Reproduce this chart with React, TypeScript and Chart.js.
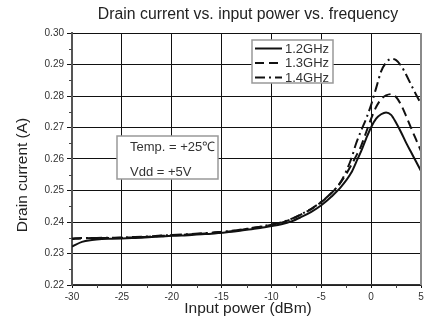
import React, { useEffect, useRef } from "react";
import { Chart, registerables } from "chart.js";
Chart.register(...registerables);

const inputPower = [-30, -29, -28, -27, -26, -25, -24, -23, -22, -21, -20, -19, -18, -17, -16, -15, -14, -13, -12, -11, -10, -9, -8, -7, -6, -5, -4, -3, -2, -1.5, -1, -0.5, 0, 0.5, 1, 1.5, 2, 2.5, 3, 3.5, 4, 4.5, 5];

const current12 = [0.2322, 0.2337, 0.2343, 0.2346, 0.2347, 0.2348, 0.2349, 0.235, 0.2352, 0.2354, 0.2356, 0.2357, 0.2359, 0.2361, 0.2363, 0.2366, 0.2369, 0.2373, 0.2377, 0.2382, 0.2387, 0.2393, 0.2402, 0.2416, 0.2432, 0.2453, 0.248, 0.2512, 0.2556, 0.259, 0.2625, 0.2665, 0.2701, 0.2728, 0.2742, 0.2748, 0.274, 0.2715, 0.2685, 0.2652, 0.2622, 0.2592, 0.2562];

const current13 = [0.2346, 0.2348, 0.2349, 0.2349, 0.2349, 0.235, 0.2351, 0.2352, 0.2354, 0.2356, 0.2358, 0.2359, 0.2361, 0.2363, 0.2365, 0.2368, 0.2371, 0.2375, 0.238, 0.2385, 0.2391, 0.2398, 0.2409, 0.2424, 0.2441, 0.2463, 0.2491, 0.2528, 0.258, 0.261, 0.2642, 0.2685, 0.2728, 0.2765, 0.279, 0.2802, 0.2806, 0.2797, 0.2772, 0.2737, 0.2699, 0.2662, 0.2625];

const current14 = [0.2348, 0.2349, 0.2349, 0.235, 0.235, 0.2351, 0.2352, 0.2353, 0.2355, 0.2357, 0.2359, 0.236, 0.2362, 0.2364, 0.2366, 0.2369, 0.2372, 0.2376, 0.2381, 0.2386, 0.2392, 0.2399, 0.241, 0.2425, 0.2442, 0.2464, 0.2492, 0.253, 0.26, 0.265, 0.269, 0.2728, 0.2772, 0.2825, 0.2878, 0.2906, 0.2918, 0.2914, 0.2896, 0.2868, 0.2836, 0.2805, 0.2775];

const seriesLabels = ["1.2GHz", "1.3GHz", "1.4GHz"];
const seriesDashes: number[][] = [[], [9, 5], [10, 4, 2, 4]];
const chartTitle = "Drain current vs. input power vs. frequency";
const xTitle = "Input power (dBm)";
const yTitle = "Drain current (A)";
const noteLines = ["Temp. = +25\u2103", "Vdd = +5V"];

const FONT = "'Liberation Sans', Arial, sans-serif";

const overlay = {
  id: "overlay",
  afterDatasetsDraw(chart: any) {
    const ctx = chart.ctx;
    const { left, right, top, bottom } = chart.chartArea;
    const xs = chart.scales.x;
    const ys = chart.scales.y;
    ctx.save();
    // right border
    ctx.strokeStyle = "#8a8a8a";
    ctx.lineWidth = 2;
    ctx.beginPath();
    ctx.moveTo(right, top);
    ctx.lineTo(right, bottom);
    ctx.stroke();
    // minor ticks
    ctx.strokeStyle = "#444";
    ctx.lineWidth = 1;
    for (let v = -27.5; v < 5; v += 5) {
      const px = Math.round(xs.getPixelForValue(v)) + 0.5;
      ctx.beginPath();
      ctx.moveTo(px, bottom);
      ctx.lineTo(px, bottom + 3);
      ctx.stroke();
    }
    for (let v = 0.225; v < 0.3; v += 0.01) {
      const py = Math.round(ys.getPixelForValue(v)) + 0.5;
      ctx.beginPath();
      ctx.moveTo(left - 3, py);
      ctx.lineTo(left, py);
      ctx.stroke();
    }
    // legend box
    ctx.fillStyle = "#fff";
    ctx.fillRect(252, 40, 81, 43);
    ctx.strokeStyle = "#999";
    ctx.lineWidth = 1.5;
    ctx.strokeRect(252, 40, 81, 43);
    const rows = [48.5, 63, 77.5];
    ctx.font = `13px ${FONT}`;
    ctx.textBaseline = "middle";
    ctx.textAlign = "left";
    rows.forEach((ry, i) => {
      ctx.strokeStyle = "#111";
      ctx.lineWidth = 2;
      ctx.setLineDash(seriesDashes[i]);
      ctx.beginPath();
      ctx.moveTo(255, ry);
      ctx.lineTo(282, ry);
      ctx.stroke();
      ctx.setLineDash([]);
      ctx.fillStyle = "#333";
      ctx.fillText(seriesLabels[i], 285, ry + 0.5);
    });
    // note box
    ctx.fillStyle = "#fff";
    ctx.fillRect(117, 136, 101, 43);
    ctx.strokeStyle = "#999";
    ctx.lineWidth = 1.5;
    ctx.strokeRect(117, 136, 101, 43);
    ctx.fillStyle = "#333";
    ctx.font = `13px ${FONT}`;
    ctx.fillText(noteLines[0], 130, 147);
    ctx.fillText(noteLines[1], 130, 172);
    // titles
    ctx.fillStyle = "#222";
    ctx.font = `15.8px ${FONT}`;
    ctx.textAlign = "center";
    ctx.textBaseline = "alphabetic";
    ctx.fillText(chartTitle, 248, 19);
    ctx.font = `15.5px ${FONT}`;
    ctx.fillText(xTitle, 248, 313);
    ctx.translate(27, 175);
    ctx.rotate(-Math.PI / 2);
    ctx.fillText(yTitle, 0, 0);
    ctx.restore();
  },
};

export default function App() {
  const ref = useRef<HTMLCanvasElement | null>(null);
  useEffect(() => {
    document.body.style.margin = "0";
    const canvas = ref.current!;
    const mk = (vals: number[]) => inputPower.map((x, i) => ({ x, y: vals[i] }));
    const allSeries = [current12, current13, current14];
    const chart = new Chart(canvas, {
      type: "line",
      data: {
        datasets: allSeries.map((vals, i) => ({
          label: seriesLabels[i],
          data: mk(vals),
          borderColor: "#111",
          borderWidth: 2,
          borderDash: seriesDashes[i],
          pointRadius: 0,
          fill: false,
          cubicInterpolationMode: "monotone" as const,
        })),
      },
      options: {
        responsive: false,
        animation: false,
        devicePixelRatio: 1,
        layout: { padding: { top: 33, right: 9, left: 0, bottom: 0 } },
        plugins: { legend: { display: false }, title: { display: false }, tooltip: { enabled: false } },
        scales: {
          x: {
            type: "linear",
            min: -30,
            max: 5,
            ticks: {
              stepSize: 5,
              color: "#333",
              font: { family: FONT, size: 10 },
              padding: 3,
              maxRotation: 0,
              autoSkip: false,
            },
            grid: { color: "#111", lineWidth: 1, tickLength: 3, drawTicks: true },
            border: { color: "#333", width: 1.5 },
            afterFit: (s: any) => { s.height = 42; },
          },
          y: {
            min: 0.22,
            max: 0.3,
            ticks: {
              stepSize: 0.01,
              color: "#333",
              font: { family: FONT, size: 10 },
              padding: 3,
              callback: (v: any) => Number(v).toFixed(2),
            },
            grid: { color: "#111", lineWidth: 1, tickLength: 5, drawTicks: true },
            border: { color: "#555", width: 2 },
            afterFit: (s: any) => { s.width = 72; },
          },
        },
      },
      plugins: [overlay],
    });
    return () => chart.destroy();
  }, []);
  return (
    <div style={{ width: 430, height: 327 }}>
      <canvas ref={ref} width={430} height={327} style={{ display: "block" }} />
    </div>
  );
}
